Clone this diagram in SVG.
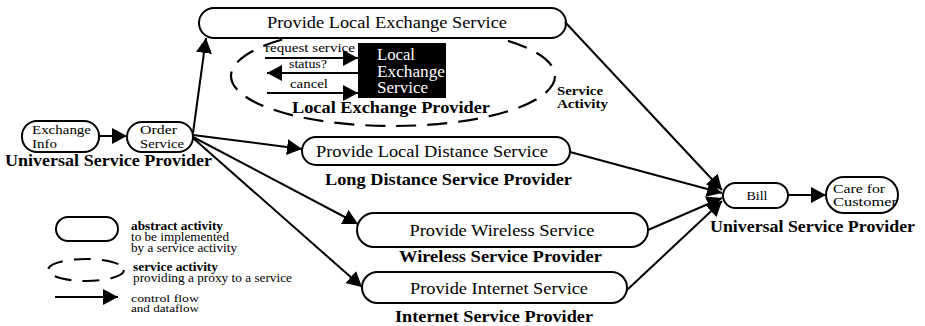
<svg xmlns="http://www.w3.org/2000/svg" width="925" height="326" viewBox="0 0 925 326">
  <style>
    .act { fill: #fff; stroke: #000; stroke-width: 2; }
    .svc { fill: none; stroke: #000; stroke-width: 2.2; stroke-dasharray: 20 11; }
    .flow { fill: none; stroke: #000; stroke-width: 2; marker-end: url(#ah); }
    text { font-family: "Liberation Serif", "Times New Roman", serif; fill: #000; }
    .node { font-size: 16px; }
    .two { font-size: 12px; }
    .prov { font-size: 16.5px; font-weight: bold; }
    .msg { font-size: 13px; }
    .box { font-size: 16px; fill: #fff; }
    .leg { font-size: 11.5px; }
    .legb { font-size: 11.5px; font-weight: bold; }
    .tiny { font-size: 10px; }
    .sa { font-size: 11.5px; font-weight: bold; }
  </style>
  <defs>
    <marker id="ah" markerWidth="15" markerHeight="16" refX="15" refY="8" orient="auto" markerUnits="userSpaceOnUse">
      <path d="M0,0 L15,8 L0,16 z" fill="#000"/>
    </marker>
  </defs>
  <rect width="925" height="326" fill="#fff"/>

  <!-- service activity boundary around the local exchange proxy -->
  <g id="local-exchange-activity">
    <ellipse class="svc" cx="393" cy="76" rx="162" ry="50"/>
    <text class="prov" x="292" y="113" textLength="198" lengthAdjust="spacingAndGlyphs">Local Exchange Provider</text>
    <text class="sa" x="557" y="95" textLength="46" lengthAdjust="spacingAndGlyphs">Service</text>
    <text class="sa" x="557" y="108" textLength="51" lengthAdjust="spacingAndGlyphs">Activity</text>
  </g>

  <g id="provide-local-exchange">
    <rect class="act" x="199" y="8" width="367" height="30" rx="15"/>
    <text class="node" x="387" y="28" text-anchor="middle" textLength="240" lengthAdjust="spacingAndGlyphs">Provide Local Exchange Service</text>
  </g>

  <g id="local-exchange-service">
    <rect x="358" y="43" width="88" height="55" fill="#000"/>
    <text class="box" x="377" y="60" textLength="38" lengthAdjust="spacingAndGlyphs">Local</text>
    <text class="box" x="377" y="77" textLength="68" lengthAdjust="spacingAndGlyphs">Exchange</text>
    <text class="box" x="377" y="93" textLength="51" lengthAdjust="spacingAndGlyphs">Service</text>
  </g>

  <g id="exchange-info">
    <rect class="act" x="22" y="121" width="77" height="31" rx="15"/>
    <text class="two" x="32" y="133.5" textLength="59" lengthAdjust="spacingAndGlyphs">Exchange</text>
    <text class="two" x="32" y="147.5" textLength="25" lengthAdjust="spacingAndGlyphs">Info</text>
  </g>

  <g id="order-service">
    <rect class="act" x="127" y="122" width="66" height="30" rx="15"/>
    <text class="two" x="140" y="133.5" textLength="37" lengthAdjust="spacingAndGlyphs">Order</text>
    <text class="two" x="140" y="147.5" textLength="44" lengthAdjust="spacingAndGlyphs">Service</text>
  </g>
  <text class="prov" x="5" y="166" textLength="207" lengthAdjust="spacingAndGlyphs">Universal Service Provider</text>

  <g id="provide-long-distance">
    <rect class="act" x="302" y="137" width="268" height="28" rx="14"/>
    <text class="node" x="432" y="157" text-anchor="middle" textLength="232" lengthAdjust="spacingAndGlyphs">Provide Local Distance Service</text>
    <text class="prov" x="325" y="185" textLength="247" lengthAdjust="spacingAndGlyphs">Long Distance Service Provider</text>
  </g>

  <g id="provide-wireless">
    <rect class="act" x="357" y="213" width="291" height="34" rx="17"/>
    <text class="node" x="502" y="236" text-anchor="middle" textLength="185" lengthAdjust="spacingAndGlyphs">Provide Wireless Service</text>
    <text class="prov" x="399" y="262" textLength="203" lengthAdjust="spacingAndGlyphs">Wireless Service Provider</text>
  </g>

  <g id="provide-internet">
    <rect class="act" x="362" y="272" width="265" height="31" rx="15.5"/>
    <text class="node" x="499" y="294" text-anchor="middle" textLength="178" lengthAdjust="spacingAndGlyphs">Provide Internet Service</text>
    <text class="prov" x="395" y="322" textLength="198" lengthAdjust="spacingAndGlyphs">Internet Service Provider</text>
  </g>

  <g id="bill">
    <rect class="act" x="723" y="183" width="65" height="25" rx="12.5"/>
    <text class="two" x="757" y="200" text-anchor="middle" textLength="21" lengthAdjust="spacingAndGlyphs">Bill</text>
  </g>

  <g id="care-for-customer">
    <rect class="act" x="826" y="177" width="72" height="36" rx="18"/>
    <text class="two" x="833" y="192.5" textLength="52" lengthAdjust="spacingAndGlyphs">Care for</text>
    <text class="two" x="833" y="206" textLength="64" lengthAdjust="spacingAndGlyphs">Customer</text>
  </g>
  <text class="prov" x="710" y="232" textLength="205" lengthAdjust="spacingAndGlyphs">Universal Service Provider</text>

  <!-- control flow and dataflow -->
  <g id="connectors">
    <line class="flow" x1="99" y1="136" x2="127" y2="136"/>
    <line class="flow" x1="193" y1="133" x2="206" y2="38"/>
    <line class="flow" x1="193" y1="135" x2="302" y2="149"/>
    <line class="flow" x1="193" y1="137" x2="358" y2="224"/>
    <line class="flow" x1="193" y1="138" x2="362" y2="287"/>

    <line class="flow" x1="265" y1="58" x2="358" y2="58"/>
    <line class="flow" x1="358" y1="73" x2="267" y2="73"/>
    <line class="flow" x1="267" y1="93" x2="358" y2="93"/>

    <line class="flow" x1="565" y1="22" x2="722" y2="190"/>
    <line class="flow" x1="570" y1="152" x2="722" y2="193"/>
    <line class="flow" x1="648" y1="230" x2="722" y2="198"/>
    <line class="flow" x1="627" y1="290" x2="722" y2="201"/>

    <line class="flow" x1="788" y1="195" x2="826" y2="195"/>
  </g>

  <g id="message-labels">
    <text class="msg" x="265" y="52" textLength="90" lengthAdjust="spacingAndGlyphs">request service</text>
    <text class="msg" x="289" y="68" textLength="38" lengthAdjust="spacingAndGlyphs">status?</text>
    <text class="msg" x="290" y="88" textLength="38" lengthAdjust="spacingAndGlyphs">cancel</text>
  </g>

  <!-- legend -->
  <g id="legend">
    <rect class="act" x="56" y="217" width="62" height="24" rx="12"/>
    <text class="legb" x="131" y="230" textLength="92" lengthAdjust="spacingAndGlyphs">abstract activity</text>
    <text class="leg" x="131" y="241" textLength="98" lengthAdjust="spacingAndGlyphs">to be implemented</text>
    <text class="leg" x="131" y="252" textLength="106" lengthAdjust="spacingAndGlyphs">by a service activity</text>

    <ellipse cx="86" cy="270" rx="38" ry="11" fill="none" stroke="#000" stroke-width="2" stroke-dasharray="17 11"/>
    <text class="legb" x="133" y="271" textLength="85" lengthAdjust="spacingAndGlyphs">service activity</text>
    <text class="leg" x="133" y="282" textLength="159" lengthAdjust="spacingAndGlyphs">providing a proxy to a service</text>

    <line class="flow" x1="55" y1="297" x2="118" y2="297"/>
    <text class="tiny" x="131" y="302" textLength="68" lengthAdjust="spacingAndGlyphs">control flow</text>
    <text class="tiny" x="131" y="312" textLength="68" lengthAdjust="spacingAndGlyphs">and dataflow</text>
  </g>
</svg>
